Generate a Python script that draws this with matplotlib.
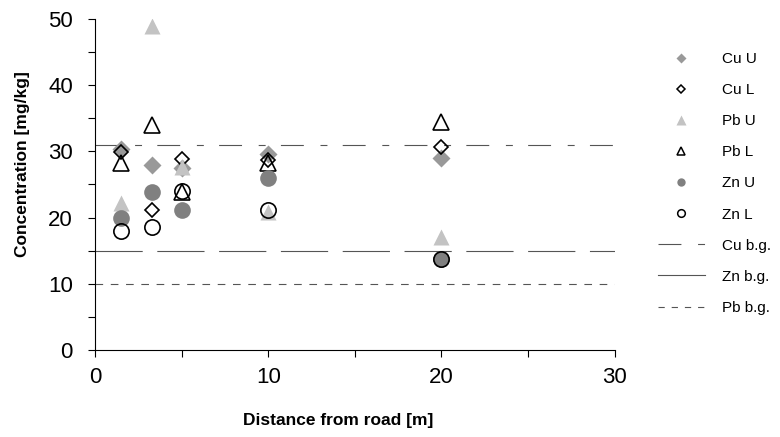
"""Heavy metal concentration vs. distance from road (upper / lower layer)."""

import matplotlib
matplotlib.use("Agg")
import matplotlib.pyplot as plt
from matplotlib.lines import Line2D
from matplotlib.ticker import MultipleLocator

plt.rcParams["font.family"] = ["Liberation Sans", "DejaVu Sans"]
plt.rcParams["lines.scale_dashes"] = False

# ---------------------------------------------------------------------------
# Data
# ---------------------------------------------------------------------------
distance = [1.5, 3.3, 5, 10, 20]

cu_u = [30.3, 28.0, 27.5, 29.6, 29.0]
cu_l = [29.9, 21.1, 28.8, 28.7, 30.6]
pb_u = [22.2, 48.9, 27.7, 20.9, 17.1]
pb_l = [28.2, 33.9, 23.9, 28.3, 34.4]
zn_u = [20.0, 23.8, 21.2, 26.0, 13.7]
zn_l = [17.9, 18.5, 24.0, 21.2, 13.7]

# background levels
bg_x = [0, 30]
cu_bg = 31
zn_bg = 15
pb_bg = 10

LINE_C = "#555555"
CU_LS = (0, (16.5, 12, 5, 11))
ZN_LS = (0, (34, 10.5))
PB_LS = (0, (5.5, 5.5))

fig = plt.figure(figsize=(7.8, 4.37), dpi=100)
ax = fig.add_axes([0.122, 0.199, 0.666, 0.758])

# background lines first, markers on top
ax.plot(bg_x, [cu_bg, cu_bg], color=LINE_C, lw=0.8, ls=CU_LS)
ax.plot(bg_x, [zn_bg, zn_bg], color=LINE_C, lw=0.8, ls=ZN_LS)
ax.plot(bg_x, [pb_bg, pb_bg], color=LINE_C, lw=0.8, ls=PB_LS)

ax.plot(distance, cu_u, ls="none", marker="D", ms=9, mfc="#999999", mec="none")
ax.plot(distance, cu_l, ls="none", marker="D", ms=7, mfc="none", mec="black", mew=1.2)
ax.plot(distance, pb_u, ls="none", marker="^", ms=12, mfc="#c3c3c3", mec="none")
ax.plot(distance, pb_l, ls="none", marker="^", ms=11.5, mfc="none", mec="black", mew=1.2)
ax.plot(distance, zn_u, ls="none", marker="o", ms=12, mfc="#808080", mec="none")
ax.plot(distance, zn_l, ls="none", marker="o", ms=11, mfc="none", mec="black", mew=1.2)

ax.set_xlim(0, 30)
ax.set_ylim(0, 50)
ax.xaxis.set_major_locator(MultipleLocator(10))
ax.xaxis.set_minor_locator(MultipleLocator(5))
ax.yaxis.set_major_locator(MultipleLocator(10))
ax.yaxis.set_minor_locator(MultipleLocator(5))
ax.tick_params(which="both", direction="out", length=5, width=0.8)
ax.tick_params(axis="x", which="major", labelsize=16, pad=7.5)
ax.tick_params(axis="y", which="major", labelsize=16, pad=11)
ax.spines["top"].set_visible(False)
ax.spines["right"].set_visible(False)
ax.spines["left"].set_linewidth(0.8)
ax.spines["bottom"].set_linewidth(0.8)

ax.set_xlabel("Distance from road [m]", fontsize=12.5, fontweight="bold")
ax.set_ylabel("Concentration [mg/kg]", fontsize=12.5, fontweight="bold")
ax.xaxis.set_label_coords(0.467, -0.19)
ax.yaxis.set_label_coords(-0.125, 0.562)

handles = [
    Line2D([], [], ls="none", marker="D", ms=5, mfc="#999999", mec="none", label="Cu U"),
    Line2D([], [], ls="none", marker="D", ms=4.5, mfc="none", mec="black", mew=1.1, label="Cu L"),
    Line2D([], [], ls="none", marker="^", ms=6.5, mfc="#c3c3c3", mec="none", label="Pb U"),
    Line2D([], [], ls="none", marker="^", ms=6, mfc="none", mec="black", mew=1.1, label="Pb L"),
    Line2D([], [], ls="none", marker="o", ms=6, mfc="#808080", mec="none", label="Zn U"),
    Line2D([], [], ls="none", marker="o", ms=5.5, mfc="none", mec="black", mew=1.1, label="Zn L"),
    Line2D([], [], color=LINE_C, lw=0.8, ls=CU_LS, label="Cu b.g."),
    Line2D([], [], color=LINE_C, lw=0.8, ls="-", label="Zn b.g."),
    Line2D([], [], color=LINE_C, lw=0.8, ls=(0, (4.5, 5)), label="Pb b.g."),
]
fig.legend(handles=handles, loc="upper left", bbox_to_anchor=(0.843, 0.881),
           frameon=False, fontsize=11, handlelength=3.1, handletextpad=1.1,
           labelspacing=1.12, borderpad=0, borderaxespad=0, numpoints=1)

fig.savefig("out.png", dpi=100)
